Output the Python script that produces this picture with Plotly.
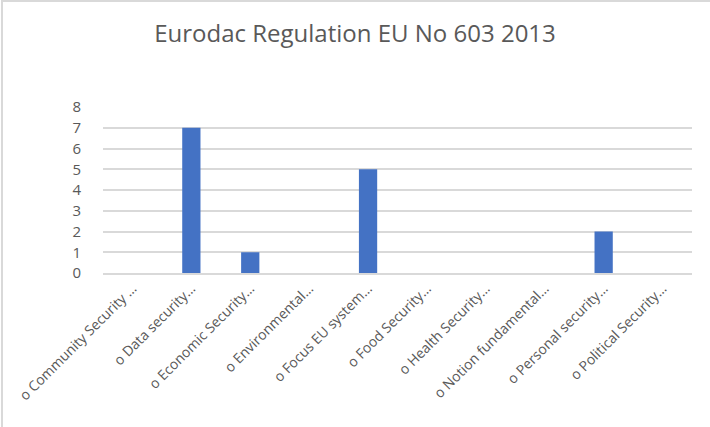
import plotly.graph_objects as go

categories = ["o Community Security …", "o Data security…", "o Economic Security…",
              "o Environmental…", "o Focus EU system…", "o Food Security…",
              "o Health Security…", "o Notion fundamental…", "o Personal security…",
              "o Political Security…"]
values = [0, 7, 1, 0, 5, 0, 0, 0, 2, 0]
title_text = "Eurodac Regulation EU No 603 2013"

fig = go.Figure(go.Bar(x=categories, y=values, marker=dict(color="#4472C4", line=dict(width=0))))

fig.update_layout(
    width=710, height=427,
    margin=dict(l=103, r=18, t=107, b=154),
    paper_bgcolor="white", plot_bgcolor="white",
    title=dict(text=title_text, x=0.5, xref="container", xanchor="center", y=1 - 34/427, yanchor="middle",
               font=dict(family="Open Sans", size=24, color="#595959")),
    bargap=0.69,
    showlegend=False,
    font=dict(family="Open Sans", color="#595959"),
)
fig.update_xaxes(tickangle=-45, tickfont=dict(size=14, color="#595959"), showgrid=False,
                 showline=True, linecolor="#d9d9d9", linewidth=1.5, ticks="", fixedrange=True,
                 automargin=False)
fig.update_yaxes(range=[0, 8], dtick=1, tickfont=dict(size=15, color="#595959"),
                 showgrid=True, gridcolor="#d9d9d9", gridwidth=1.5, zeroline=False,
                 showline=False, ticks="outside", ticklen=18, tickcolor="rgba(0,0,0,0)",
                 fixedrange=True, automargin=False)

# chart outer border (light grey frame)
fig.add_shape(type="rect", xref="paper", yref="paper",
              x0=(2 - 103) / 589, x1=(760 - 103) / 589,
              y0=(273 - 470) / 166, y1=(273 - 1) / 166,
              line=dict(color="#d9d9d9", width=2), fillcolor="rgba(0,0,0,0)", layer="below")

fig.write_html("out.html")
